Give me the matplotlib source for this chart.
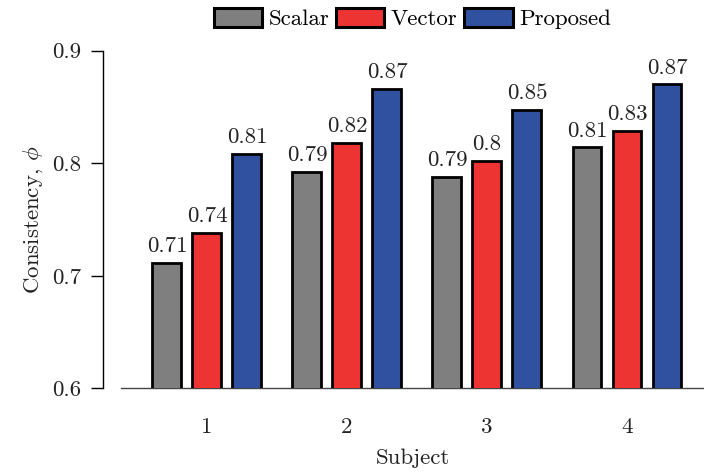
import matplotlib
matplotlib.use("Agg")
import matplotlib.pyplot as plt
import numpy as np

# Consistency scores per subject for each method
subjects = ["1", "2", "3", "4"]
methods = ["Scalar", "Vector", "Proposed"]
scalar = [0.711, 0.792, 0.788, 0.814]
vector = [0.738, 0.818, 0.802, 0.829]
proposed = [0.808, 0.866, 0.847, 0.870]
yticks = [0.6, 0.7, 0.8, 0.9]

colors = ["#7f7f7f", "#ee3333", "#3050a0"]

plt.rcParams["font.family"] = ["cmr10", "DejaVu Serif"]
plt.rcParams["mathtext.fontset"] = "cm"
plt.rcParams["axes.formatter.use_mathtext"] = True

FS = 16.5
TXT = "#222222"

fig = plt.figure(figsize=(7.04, 4.73), dpi=100)
ax = fig.add_axes([121 / 704, 1 - 388.3 / 473, 1 - 121 / 704, (388.3 - 50.7) / 473])

x = np.arange(1, len(subjects) + 1)
step = 0.2857
width = 0.207
series = [scalar, vector, proposed]

for i, (name, vals, col) in enumerate(zip(methods, series, colors)):
    pos = x + (i - 1) * step
    bars = ax.bar(pos, vals, width=width, color=col, edgecolor="black",
                  linewidth=2.0, label=name, zorder=3)
    for b, v in zip(bars, vals):
        ax.annotate(f"{round(v, 2):g}", (b.get_x() + b.get_width() / 2, v),
                    xytext=(0, 5), textcoords="offset points",
                    ha="center", va="bottom", fontsize=FS, color=TXT)

ax.set_ylim(0.6, 0.9)
ax.set_xlim(0.386, 4.55)
ax.set_yticks(yticks)
ax.set_yticklabels([f"{t:g}" for t in yticks])
ax.set_xticks(x)
ax.set_xticklabels(subjects)

for s in ["top", "right"]:
    ax.spines[s].set_visible(False)
ax.spines["left"].set_position(("outward", 13))
ax.spines["left"].set_linewidth(1.0)
ax.spines["bottom"].set_linewidth(1.0)
ax.spines["bottom"].set_color("#444444")

ax.tick_params(axis="y", direction="out", length=8.5, width=1.0, pad=7,
               labelsize=FS, labelcolor=TXT)
ax.tick_params(axis="x", length=0, pad=21, labelsize=FS, labelcolor=TXT)

ax.set_xlabel("Subject", fontsize=FS, color=TXT, labelpad=8)
ax.set_ylabel(r"Consistency, $\phi$", fontsize=FS, color=TXT, labelpad=5)

leg = ax.legend(loc="center", bbox_to_anchor=(0.5, 1 + 32 / 337.6), ncol=3,
                frameon=False, fontsize=FS, handlelength=2.1, handleheight=0.9,
                handletextpad=0.28, columnspacing=0.3, borderaxespad=0,
                borderpad=0)
for h in leg.legend_handles:
    h.set_linewidth(2.2)

fig.savefig("out.png", dpi=100)
